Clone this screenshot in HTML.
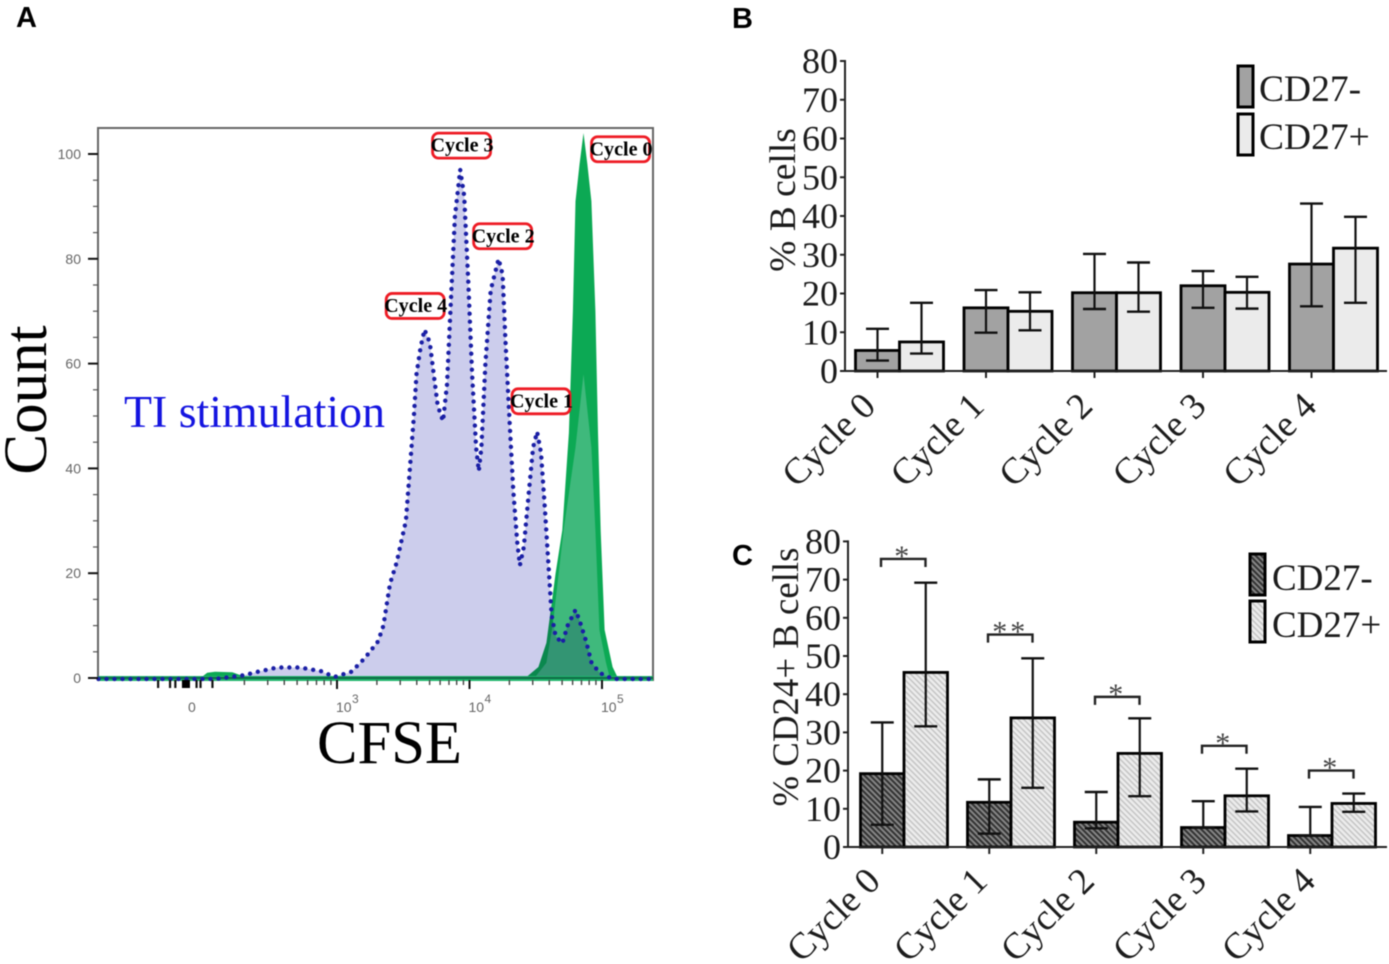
<!DOCTYPE html>
<html lang="en">
<head>
<meta charset="utf-8">
<title>CFSE proliferation figure</title>
<style>
html,body{margin:0;padding:0;background:#fff;width:1389px;height:964px;overflow:hidden}
svg{display:block;filter:blur(0.5px)}
text{font-family:"Liberation Serif",serif;fill:#1c1c1c}
.letter{font-family:"Liberation Sans",sans-serif;font-weight:bold;font-size:29px;fill:#000}
.small{font-family:"Liberation Sans",sans-serif;font-size:14px;fill:#666}
.tag{font-weight:bold;font-size:20px;fill:#000}
</style>
</head>
<body>
<svg id="figure" xmlns="http://www.w3.org/2000/svg" width="1389" height="964" viewBox="0 0 1389 964">
  <defs>
    <pattern id="hatch-dark" patternUnits="userSpaceOnUse" width="4" height="4" patternTransform="rotate(45)">
      <rect width="4" height="4" fill="#858585"/>
      <rect width="4" height="2" fill="#333333"/>
    </pattern>
    <pattern id="hatch-light" patternUnits="userSpaceOnUse" width="4" height="4" patternTransform="rotate(45)">
      <rect width="4" height="4" fill="#ededed"/>
      <rect width="4" height="1.6" fill="#c6c6c6"/>
    </pattern>
  </defs>

  <text class="letter" x="16" y="27">A</text>
  <text class="letter" x="732" y="28">B</text>
  <text class="letter" x="732" y="565">C</text>

  <g id="panel-a"></g>
  <text x="124" y="427" font-size="45" textLength="261" lengthAdjust="spacingAndGlyphs" style="fill:#1414e0">TI stimulation</text>
  <text transform="translate(46,400) rotate(-90)" text-anchor="middle" font-size="61" style="fill:#000">Count</text>
  <text x="317" y="763" font-size="61" textLength="145" lengthAdjust="spacingAndGlyphs" style="fill:#000">CFSE</text>

  <g id="panel-b"></g>
  <text transform="translate(795,200) rotate(-90)" text-anchor="middle" font-size="37.5">% B cells</text>
  <g>
    <rect x="1238" y="66" width="15" height="41" fill="#a2a2a2" stroke="#000" stroke-width="3"/>
    <rect x="1238" y="114" width="15" height="41" fill="#ebebeb" stroke="#000" stroke-width="3"/>
    <text x="1259" y="101" font-size="37.5">CD27-</text>
    <text x="1259" y="149" font-size="37.5">CD27+</text>
  </g>

  <g id="panel-c"></g>
  <text transform="translate(798,677) rotate(-90)" text-anchor="middle" font-size="36.8">% CD24+ B cells</text>
  <g>
    <rect x="1250" y="554" width="15" height="41" fill="url(#hatch-dark)" stroke="#000" stroke-width="3"/>
    <rect x="1250" y="601" width="15" height="41" fill="url(#hatch-light)" stroke="#000" stroke-width="3"/>
    <text x="1272" y="590" font-size="37">CD27-</text>
    <text x="1272" y="637" font-size="37">CD27+</text>
  </g>
</svg>

<script>
// ---------- Panel A data ----------
const blueDecades = [1.20,2.08,2.29,2.42,2.55,2.72,2.88,2.98,3.11,3.21,3.31,3.35,3.40,3.45,3.52,3.55,3.58,3.60,3.63,3.66,3.70,3.73,3.76,3.80,3.83,3.86,3.89,3.93,3.96,3.99,4.02,4.05,4.07,4.09,4.12,4.16,4.22,4.25,4.27,4.30,4.33,4.36,4.38,4.41,4.45,4.48,4.51,4.54,4.57,4.60,4.62,4.65,4.70,4.74,4.80,4.83,4.88,4.92,4.98,5.08,5.38];
const blueCounts = [-0.2,-0.2,0.5,1.3,2,2,1.3,0.2,1.2,3.8,7,10,18,22,30,40,50,58,63,66.5,64,58,52,49,56,72,88,97,92,76,58,44,39.5,44,60,74,80,77,65,50,36,26,21.5,25,36,44,47,43,32,20,12,8,6.6,10,13,11,7,3,1,-0.2,-0.2];
const greenDecades = [1.20,1.97,2.02,2.08,2.21,2.31,2.72,4.38,4.43,4.52,4.58,4.65,4.70,4.75,4.78,4.80,4.83,4.86,4.89,4.92,4.95,4.97,4.99,5.02,5.08,5.12,5.38];
const greenCounts = [0,0,1,1.2,1.1,0.2,0,0,0.2,2.1,6.7,20,28.2,46.8,70,91,98,104,98,91,70,46.8,28,9.2,2.1,0,0];
const innerDecades = [4.49,4.58,4.63,4.71,4.80,4.86,4.92,4.95,4.98,5.03,5.06];
const innerCounts = [0,2.9,10.5,28.2,44,58,44,28.2,9.2,2.9,0];
const countTicks = [0,20,40,60,80,100];
const countMinorTicks = [5,10,15,25,30,35,45,50,55,65,70,75,85,90,95];
const decadeTicks = [3,4,5];
const decadeTickLabels = ['10','10','10'];
const decadeTickExponents = ['3','4','5'];
const minorMultipliers = [2,3,4,5,6,7,8,9];
const nearZeroTicks = [1.65,1.74,1.78,1.94,1.97,2.06];
const zeroDecade = 1.86;
const cycleTags = ['Cycle 0','Cycle 1','Cycle 2','Cycle 3','Cycle 4'];
const cycleTagDecades = [5.14,4.54,4.25,3.94,3.59];
const cycleTagCounts = [100.9,52.8,84.3,101.6,71];

// ---------- Panel B data ----------
const categories = ['Cycle 0','Cycle 1','Cycle 2','Cycle 3','Cycle 4'];
const valueTicks = [0,10,20,30,40,50,60,70,80];
const bNegative = [5.3,16.3,20.2,22,27.6];
const bPositive = [7.5,15.4,20.2,20.3,31.7];
const bNegativeHigh = [10.9,20.9,30.2,25.8,43.2];
const bNegativeLow = [2.7,9.9,16,16.3,16.7];
const bPositiveHigh = [17.6,20.3,28,24.3,39.8];
const bPositiveLow = [4.5,10.5,15.3,16.1,17.6];

// ---------- Panel C data ----------
const cNegative = [19.2,11.7,6.5,5.1,3];
const cPositive = [45.7,33.8,24.5,13.4,11.4];
const cNegativeHigh = [32.6,17.7,14.4,12,10.5];
const cNegativeLow = [5.8,3.5,4.9,5.1,3];
const cPositiveHigh = [69.2,49.4,33.7,20.5,14];
const cPositiveLow = [31.6,15.5,13.3,9.3,9.2];
const bracketValues = [75.4,55.6,39.3,26.5,20];
const bracketStars = ['*','**','*','*','*'];

const NS = 'http://www.w3.org/2000/svg';
function make(parent, tag, attrs, txt) {
  const node = document.createElementNS(NS, tag);
  for (const k in attrs) node.setAttribute(k, attrs[k]);
  if (txt !== undefined) node.textContent = txt;
  parent.appendChild(node);
  return node;
}

// ---------- Panel A drawing ----------
(function () {
  const g = document.getElementById('panel-a');
  const xA = d => 337 + (d - 3) * 132.5;
  const yA = c => 678 - c * 5.24;
  const line = (xs, ys) => xs.map((d, i) => (i ? 'L' : 'M') + xA(d).toFixed(1) + ' ' + yA(ys[i]).toFixed(1)).join(' ');
  const area = (xs, ys) => line(xs, ys) + ' L' + xA(xs[xs.length - 1]).toFixed(1) + ' ' + yA(0) + ' L' + xA(xs[0]).toFixed(1) + ' ' + yA(0) + ' Z';

  let el = make(g, 'rect', {x: 98, y: 128, width: 555, height: 552, fill: '#fff', stroke: '#666', 'stroke-width': 2});
  
  

  el = make(g, 'path', {d: area(greenDecades, greenCounts), fill: '#0ca954'});
  
  

  el = make(g, 'path', {d: area(innerDecades, innerCounts), fill: '#3fb97c'});
  
  

  el = make(g, 'path', {d: area(blueDecades, blueCounts), fill: '#cccdec', style: 'mix-blend-mode:multiply'});
  
  

  el = make(g, 'line', {x1: 98, x2: 653, y1: 678.5, y2: 678.5, stroke: '#1fb56c', 'stroke-width': 5});
  
  

  el = make(g, 'line', {x1: 98, x2: 653, y1: 678, y2: 678, stroke: '#0f6a45', 'stroke-width': 2});
  
  

  el = make(g, 'path', {d: line(blueDecades, blueCounts), fill: 'none', stroke: '#1a1fa5', 'stroke-width': 4.4, 'stroke-linecap': 'round', 'stroke-dasharray': '0 8'});
  
  

  countTicks.forEach(v => {
    const t = make(g, 'line', {x1: 88, x2: 98, y1: yA(v), y2: yA(v), stroke: '#111', 'stroke-width': 2});
    
    
    const l = make(g, 'text', {class: 'small', x: 81, y: yA(v) + 5, 'text-anchor': 'end'}, String(v));
    
    
  });
  countMinorTicks.forEach(v => {
    const t = make(g, 'line', {x1: 93, x2: 98, y1: yA(v), y2: yA(v), stroke: '#555', 'stroke-width': 1.2});
    
    
  });

  decadeTicks.forEach((d, i) => {
    const t = make(g, 'line', {x1: xA(d), x2: xA(d), y1: 680, y2: 689, stroke: '#111', 'stroke-width': 2});
    
    
    const l = make(g, 'text', {class: 'small', x: xA(d) - 1, y: 712}, decadeTickLabels[i]);
    
    
    const s = make(g, 'text', {class: 'small', x: xA(d) + 15, y: 703, style: 'font-size:12px'}, decadeTickExponents[i]);
    
    
  });
  [2, 3, 4].forEach(base => minorMultipliers.forEach(m => {
    const d = base + Math.log10(m);
    const t = make(g, 'line', {x1: xA(d), x2: xA(d), y1: 680, y2: 685, stroke: '#444', 'stroke-width': 1.4});
    
    
  }));
  nearZeroTicks.forEach(d => {
    const t = make(g, 'line', {x1: xA(d), x2: xA(d), y1: 680, y2: 688, stroke: '#111', 'stroke-width': 2.2});
    
    
  });
  el = make(g, 'rect', {x: xA(zeroDecade) - 4, y: 680, width: 8, height: 8, fill: '#000'});
  
  
  el = make(g, 'text', {class: 'small', x: 188, y: 712}, '0');
  
  

  cycleTags.forEach((name, i) => {
    const cx = xA(cycleTagDecades[i]);
    const cy = yA(cycleTagCounts[i]);
    const box = make(g, 'rect', {x: cx - 29, y: cy - 12.5, width: 58, height: 25, rx: 6, fill: '#fff', stroke: '#ee1c25', 'stroke-width': 2.8});
    
    
    const t = make(g, 'text', {class: 'tag', x: cx - 31, y: cy + 6, textLength: 63, lengthAdjust: 'spacingAndGlyphs'}, name);
    
    
  });
})();

// ---------- Bar charts ----------
function barChart(g, cfg) {
  const y = v => cfg.y0 - v * cfg.k;
  const barX = (c, s) => cfg.x0 + c * cfg.step + s * cfg.w;

  const series = [
    {vals: cfg.neg, hi: cfg.negHi, lo: cfg.negLo, fill: cfg.fillNeg},
    {vals: cfg.pos, hi: cfg.posHi, lo: cfg.posLo, fill: cfg.fillPos}
  ];
  series.forEach((s, si) => {
    s.vals.forEach((v, c) => {
      const r = make(g, 'rect', {x: barX(c, si), y: y(v), width: cfg.w, height: v * cfg.k, fill: s.fill, stroke: '#000', 'stroke-width': 2.8});
      
      
    });
  });
  series.forEach((s, si) => {
    s.vals.forEach((v, c) => {
      const cx = barX(c, si) + cfg.w / 2;
      const stem = make(g, 'line', {x1: cx, x2: cx, y1: y(s.hi[c]), y2: y(s.lo[c]), stroke: '#111', 'stroke-width': 2.2});
      
      
      [s.hi[c], s.lo[c]].forEach(e => {
        const cap = make(g, 'line', {x1: cx - 11.5, x2: cx + 11.5, y1: y(e), y2: y(e), stroke: '#111', 'stroke-width': 2.4});
        
        
      });
    });
  });

  let a = make(g, 'line', {x1: cfg.axisX, x2: cfg.axisX, y1: y(80) - 1, y2: y(0) + 1, stroke: '#222', 'stroke-width': 2});
  
  
  a = make(g, 'line', {x1: cfg.axisX - 4, x2: 1387, y1: y(0), y2: y(0), stroke: '#222', 'stroke-width': 2});
  
  

  valueTicks.forEach(v => {
    const t = make(g, 'line', {x1: cfg.axisX - 5, x2: cfg.axisX, y1: y(v), y2: y(v), stroke: '#222', 'stroke-width': 2});
    
    
    const l = make(g, 'text', {x: cfg.axisX - 7, y: y(v) + 12, 'text-anchor': 'end', 'font-size': 36}, String(v));
    
    
  });

  categories.forEach((name, c) => {
    const cx = barX(c, 0) + cfg.w / 2;
    const t = make(g, 'line', {x1: cx, x2: cx, y1: y(0), y2: y(0) + 7, stroke: '#222', 'stroke-width': 2});
    
    
    const nudge = c >= 3 ? 5 + (c - 3) * 2 : 0;
    const l = make(g, 'text', {transform: 'translate(' + (cx + nudge) + ',' + (y(0) + cfg.labelDy) + ') rotate(-45)', 'text-anchor': 'end', 'font-size': 37}, name);
    
    
  });
}

barChart(document.getElementById('panel-b'), {
  y0: 371, k: 3.875, x0: 855.5, step: 108.5, w: 44, axisX: 845,
  neg: bNegative, pos: bPositive, negHi: bNegativeHigh, negLo: bNegativeLow, posHi: bPositiveHigh, posLo: bPositiveLow,
  fillNeg: '#a2a2a2', fillPos: '#ebebeb', labelDy: 37
});

barChart(document.getElementById('panel-c'), {
  y0: 847, k: 3.82, x0: 860.5, step: 107, w: 43.5, axisX: 848,
  neg: cNegative, pos: cPositive, negHi: cNegativeHigh, negLo: cNegativeLow, posHi: cPositiveHigh, posLo: cPositiveLow,
  fillNeg: 'url(#hatch-dark)', fillPos: 'url(#hatch-light)', labelDy: 36
});

(function () {
  const g = document.getElementById('panel-c');
  const y = v => 847 - v * 3.82;
  bracketValues.forEach((v, c) => {
    const left = 881 + c * 107;
    const right = left + 44.5;
    const top = y(v);
    const b = make(g, 'path', {d: 'M' + left + ' ' + (top + 8) + ' V' + top + ' H' + right + ' V' + (top + 8), fill: 'none', stroke: '#222', 'stroke-width': 2.4});
    
    
    const s = make(g, 'text', {x: (left + right) / 2, y: top + 7, 'text-anchor': 'middle', 'font-size': 30, style: 'fill:#444;letter-spacing:3px'}, bracketStars[c]);
    
    
  });
})();
</script>
</body>
</html>
